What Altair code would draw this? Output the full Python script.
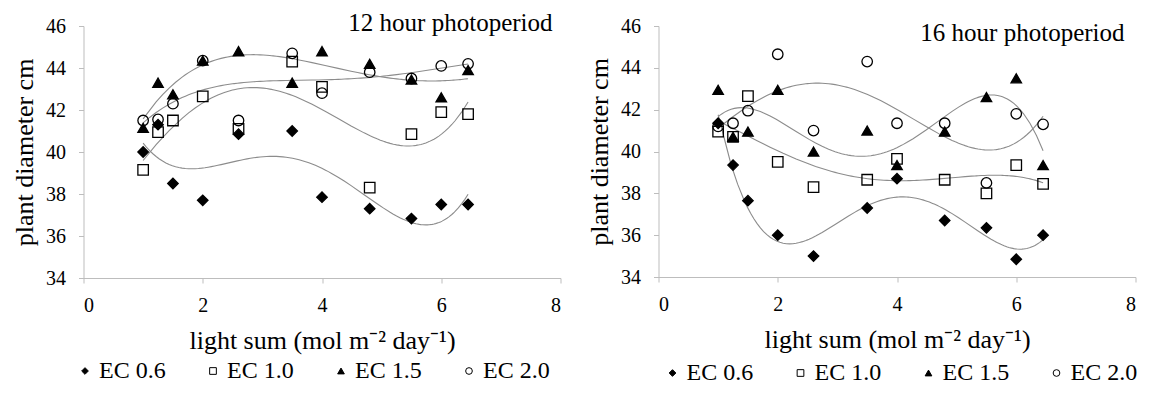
import altair as alt
import pandas as pd

series = ["EC 0.6", "EC 1.0", "EC 1.5", "EC 2.0"]
light = [1.0, 1.25, 1.5, 2.0, 2.6, 3.5, 4.0, 4.8, 5.5, 6.0, 6.45]

# 12 hour photoperiod
p12_ec06 = [40.0, 41.3, 38.5, 37.7, 40.85, 41.0, 37.85, 37.3, 36.83, 37.5, 37.5]
p12_ec10 = [39.15, 40.95, 41.5, 42.65, 41.1, 44.3, 43.1, 38.3, 40.85, 41.9, 41.8]
p12_ec15 = [41.15, 43.3, 42.75, 44.35, 44.8, 43.3, 44.8, 44.2, 43.45, 42.6, 43.9]
p12_ec20 = [41.5, 41.55, 42.3, 44.35, 41.5, 44.7, 42.8, 43.8, 43.5, 44.1, 44.2]

# 16 hour photoperiod
p16_ec06 = [41.35, 39.35, 37.65, 36.0, 35.0, 37.3, 38.7, 36.7, 36.35, 34.85, 36.0]
p16_ec10 = [40.95, 40.7, 42.65, 39.5, 38.3, 38.65, 39.65, 38.65, 38.0, 39.35, 38.45]
p16_ec15 = [42.95, 40.7, 40.95, 42.95, 40.0, 41.0, 39.35, 40.95, 42.6, 43.5, 39.35]
p16_ec20 = [41.2, 41.35, 41.95, 44.65, 41.0, 44.3, 41.35, 41.35, 38.5, 41.8, 41.3]

x_ticks = [0, 2, 4, 6, 8]
y_ticks = [34, 36, 38, 40, 42, 44, 46]

FONT = "Liberation Serif"


def long_frame(values):
    rows = []
    for s, vals in zip(series, values):
        for x, v in zip(light, vals):
            rows.append({"light": x, "diam": v, "series": s})
    return pd.DataFrame(rows)


df12 = long_frame([p12_ec06, p12_ec10, p12_ec15, p12_ec20])
df16 = long_frame([p16_ec06, p16_ec10, p16_ec15, p16_ec20])


def make_legend(lx, ly):
    return alt.Legend(
        title=None, orient="none", legendX=lx, legendY=ly, direction="horizontal",
        labelFont=FONT, labelFontSize=24, labelColor="black",
        symbolSize=45, symbolStrokeWidth=1,
        columnPadding=35, labelOffset=2, padding=0,
    )


def panel(df, title, height, tx, ty, lx, ly):
    xenc = alt.X(
        "light:Q",
        scale=alt.Scale(domain=[0, 8], nice=False),
        axis=alt.Axis(
            values=x_ticks, title="light sum (mol m\u207b\u00b2 day\u207b\u00b9)",
            labelPadding=12, titlePadding=12,
        ),
    )
    yenc = alt.Y(
        "diam:Q",
        scale=alt.Scale(domain=[34, 46], zero=False, nice=False),
        axis=alt.Axis(
            values=y_ticks, title="plant diameter cm",
            labelPadding=13, titlePadding=8,
        ),
    )
    base = alt.Chart(df)
    leg = make_legend(lx, ly)
    lines = base.transform_regression(
        "light", "diam", groupby=["series"], method="poly", order=4
    ).mark_line(color="#8c8c8c", strokeWidth=1.1).encode(
        x=xenc, y=yenc, detail="series:N"
    )
    pts = base.mark_point(filled=True, size=110, strokeWidth=1.3, opacity=1).encode(
        x=xenc, y=yenc,
        shape=alt.Shape(
            "series:N",
            scale=alt.Scale(domain=series, range=["diamond", "square", "triangle-up", "circle"]),
            legend=leg,
        ),
        fill=alt.Fill(
            "series:N",
            scale=alt.Scale(domain=series, range=["black", "transparent", "black", "transparent"]),
            legend=leg,
        ),
        stroke=alt.Stroke(
            "series:N",
            scale=alt.Scale(domain=series, range=["black", "black", "black", "black"]),
            legend=leg,
        ),
    )
    label = alt.Chart(pd.DataFrame({"t": [title]})).mark_text(
        font=FONT, fontSize=25, color="black", align="right", baseline="alphabetic"
    ).encode(text="t:N", x=alt.value(tx), y=alt.value(ty))
    return alt.layer(lines, pts, label).properties(width=477, height=height)


left = panel(df12, "12 hour photoperiod", 252, 469, 5, -10.5, 333)
right = panel(df16, "16 hour photoperiod", 251, 466, 15, 2, 335)

chart = (
    alt.hconcat(left, right, spacing=25)
    .properties(padding={"left": 3.5, "top": 3, "right": 0, "bottom": 0})
    .resolve_scale(shape="independent", fill="independent", stroke="independent")
    .configure(font=FONT)
    .configure_view(stroke=None)
    .configure_axis(
        grid=False, domainColor="#bdbdbd", tickColor="#bdbdbd", tickSize=5,
        labelFont=FONT, labelFontSize=20, labelColor="black",
        titleFont=FONT, titleFontSize=26, titleFontWeight="normal", titleColor="black",
    )
    .configure_legend(labelFont=FONT)
)

chart.save("out.html", embed_options={"renderer": "svg", "actions": False})
